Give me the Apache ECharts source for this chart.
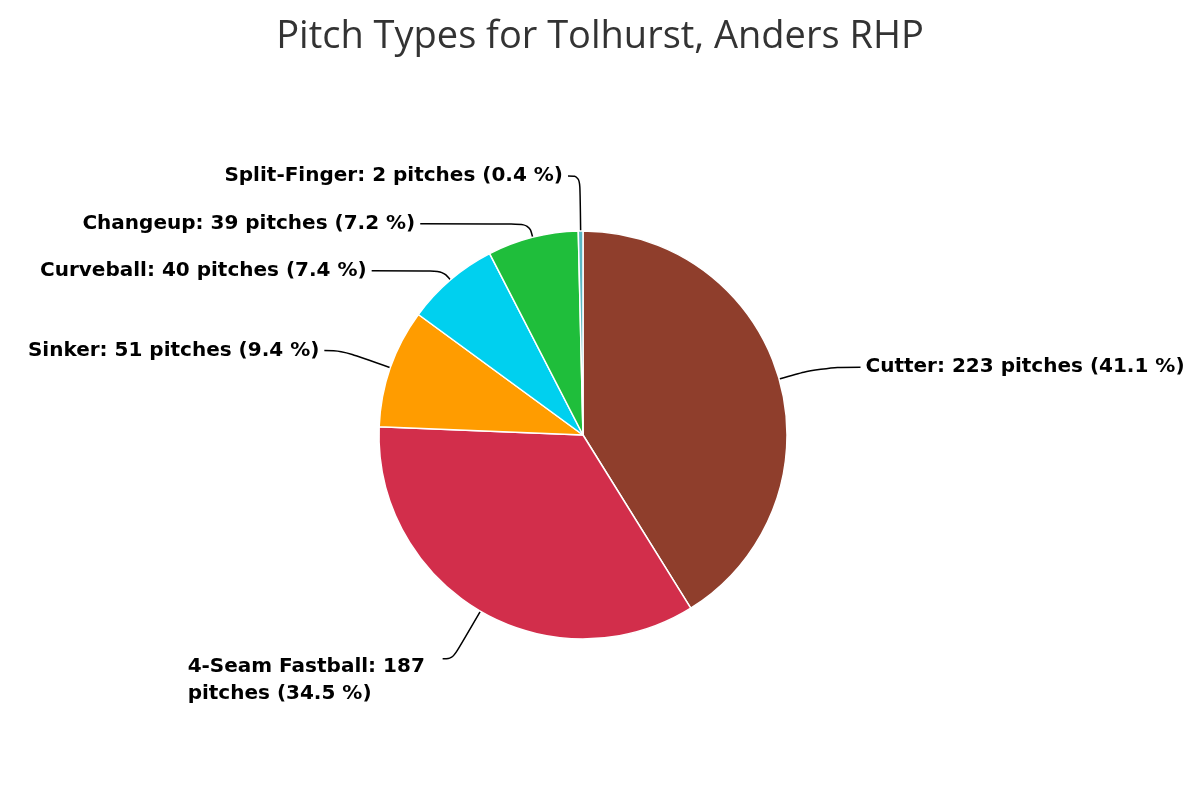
<!DOCTYPE html>
<html>
<head>
<meta charset="utf-8">
<title>Pitch Types</title>
<script src="https://cdn.jsdelivr.net/npm/echarts@6/dist/echarts.min.js"></script>
<style>
  html, body { margin: 0; padding: 0; background: #fff; }
  #chart { width: 1200px; height: 800px; }
</style>
</head>
<body>
<div id="chart"></div>
<script>
  // pitch data, clockwise from 12 o'clock
  var pitchNames = ['Cutter', '4-Seam Fastball', 'Sinker', 'Curveball', 'Changeup', 'Split-Finger'];
  var pitchCounts = [223, 187, 51, 40, 39, 2];
  var pitchColors = ['#8f3e2c', '#d22e4b', '#ff9c00', '#00d0ef', '#1fbe3b', '#5ab6c2'];
  // connector lengths per slice (radial part, horizontal part)
  var lineLen = [43, 55, 52, 12, 14, 55];
  var lineLen2 = [40, 10, 17, 71, 109, 12];

  var total = pitchCounts.reduce(function (a, b) { return a + b; }, 0);

  var seriesData = pitchNames.map(function (n, i) {
    var item = {
      name: n,
      value: pitchCounts[i],
      itemStyle: { color: pitchColors[i] },
      labelLine: { length: lineLen[i], length2: lineLen2[i] }
    };
    // wrapped label hangs below its connector
    if (n === '4-Seam Fastball') {
      item.label = { padding: [42, 0, 0, 0] };
    }
    return item;
  });

  var myChart = echarts.init(document.getElementById('chart'));
  var option = {
    title: {
      text: 'Pitch Types for Tolhurst, Anders RHP',
      left: 'center',
      top: 13,
      textStyle: {
        fontFamily: 'Open Sans',
        fontSize: 38,
        fontWeight: 'normal',
        color: '#333'
      }
    },
    series: [
      {
        type: 'pie',
        center: [583, 435],
        radius: 204,
        startAngle: 90,
        clockwise: true,
        avoidLabelOverlap: false,
        itemStyle: { borderColor: '#fff', borderWidth: 1.5 },
        label: {
          show: true,
          fontFamily: 'DejaVu Sans',
          fontWeight: 'bold',
          fontSize: 20,
          color: '#000',
          formatter: function (p) {
            var pct = (p.value / total * 100).toFixed(1);
            var s = p.name + ': ' + p.value;
            var rest = 'pitches (' + pct + ' %)';
            if ((s + ' ' + rest).length > 32) {
              return '{a|' + s + '}\n{a|' + rest + '}';
            }
            return s + ' ' + rest;
          },
          rich: {
            a: { fontFamily: 'DejaVu Sans', fontWeight: 'bold', fontSize: 20, color: '#000', width: 250, align: 'left', lineHeight: 27 }
          }
        },
        labelLine: {
          show: true,
          smooth: 0.4,
          lineStyle: { color: '#000', width: 1.5 }
        },
        data: seriesData
      }
    ]
  };
  myChart.setOption(option);
</script>
</body>
</html>
